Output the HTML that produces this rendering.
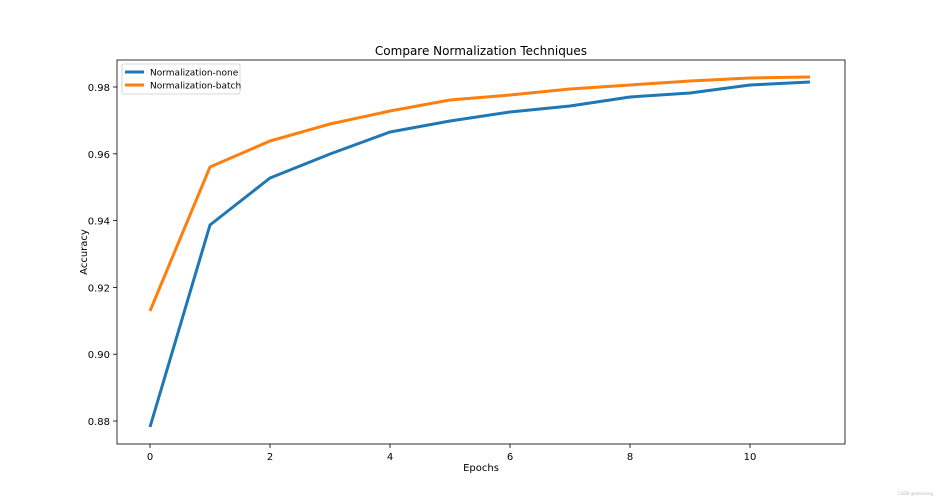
<!DOCTYPE html>
<html><head><style>html,body{margin:0;padding:0;background:#fff}svg{display:block}</style></head>
<body>
<svg width="938" height="500" xmlns="http://www.w3.org/2000/svg" font-family="'DejaVu Sans','Liberation Sans',sans-serif" font-size="10" fill="#000">
<rect x="117" y="60" width="728" height="384" fill="none" stroke="#000" stroke-width="0.8"/>
<text x="481" y="55" text-anchor="middle" font-size="12">Compare Normalization Techniques</text>
<g stroke="#000" stroke-width="0.8">
<line x1="150" y1="444" x2="150" y2="448"/><line x1="270" y1="444" x2="270" y2="448"/><line x1="390" y1="444" x2="390" y2="448"/><line x1="510" y1="444" x2="510" y2="448"/><line x1="630" y1="444" x2="630" y2="448"/><line x1="750" y1="444" x2="750" y2="448"/>
<line x1="113" y1="87" x2="117" y2="87"/><line x1="113" y1="153.8" x2="117" y2="153.8"/><line x1="113" y1="220.6" x2="117" y2="220.6"/><line x1="113" y1="287.4" x2="117" y2="287.4"/><line x1="113" y1="354.2" x2="117" y2="354.2"/><line x1="113" y1="421" x2="117" y2="421"/>
</g>
<g text-anchor="middle"><text x="150" y="460">0</text><text x="270" y="460">2</text><text x="390" y="460">4</text><text x="510" y="460">6</text><text x="630" y="460">8</text><text x="750" y="460">10</text></g>
<g text-anchor="end"><text x="110" y="91">0.98</text><text x="110" y="158">0.96</text><text x="110" y="224.5">0.94</text><text x="110" y="291.5">0.92</text><text x="110" y="358">0.90</text><text x="110" y="425">0.88</text></g>
<text x="481" y="471" text-anchor="middle">Epochs</text>
<text transform="translate(87,252) rotate(-90)" text-anchor="middle">Accuracy</text>
<polyline fill="none" stroke="#1f77b4" stroke-width="3" stroke-linejoin="round" points="150,427 210,225 270,178 330,154 390,132 450,121 510,112 570,106 630,97 690,93 750,85 810,82"/>
<polyline fill="none" stroke="#ff7f0e" stroke-width="3" stroke-linejoin="round" points="150,311 210,167 270,141 330,124 390,111 450,100 510,95 570,89 630,85 690,81 750,78 810,77"/>
<rect x="122" y="64" width="118" height="30" rx="2" fill="#fff" stroke="#ccc" stroke-width="0.8"/>
<line x1="125" y1="72" x2="144" y2="72" stroke="#1f77b4" stroke-width="3"/>
<line x1="125" y1="85" x2="144" y2="85" stroke="#ff7f0e" stroke-width="3"/>
<text x="150" y="75.5" font-size="9">Normalization-none</text>
<text x="150" y="88.5" font-size="9">Normalization-batch</text>
<text x="933" y="495" text-anchor="end" font-size="4" fill="#bbb">CSDN @shenlong</text>
</svg>
</body></html>
